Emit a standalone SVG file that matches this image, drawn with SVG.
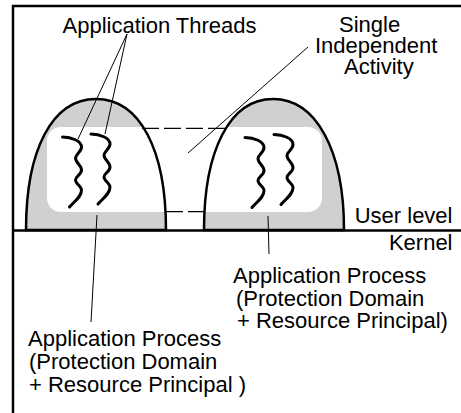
<svg xmlns="http://www.w3.org/2000/svg" width="461" height="413" viewBox="0 0 461 413">
<style>
  .lbl { font-family: "Liberation Sans", Arial, sans-serif; font-size: 22px; fill: #000; }
  .frame { stroke: #000; stroke-width: 2.5; fill: none; }
  .dome-fill { fill: #d0d0d0; stroke: none; }
  .dome-line { fill: none; stroke: #000; stroke-width: 2.5; }
  .thread { fill: none; stroke: #000; stroke-width: 3; stroke-linecap: round; stroke-linejoin: round; }
  .leader { stroke: #000; stroke-width: 1; fill: none; }
  .dash { stroke: #000; stroke-width: 1.2; fill: none; stroke-dasharray: 17 5; }
</style>
<defs>
  <path id="domeL" d="M26,230 C26,150 52,99 96,99 C140,99 166,150 166,230 Z"/>
  <path id="domeR" d="M204,230 C204,150 230,99 273,99 C316,99 344,150 344,230 Z"/>
  <clipPath id="domes">
    <use href="#domeL"/>
    <use href="#domeR"/>
  </clipPath>
  <path id="thr" d="M0,0 C9,0 19,4 19,10 C19,15 13,17 13,21 C13,26 19,28 19,33 C19,38 13,39 13,43 C13,47 19,49 19,53 C19,60 12,64 7,70"/>
</defs>

<g id="frame">
  <path class="frame" d="M13,413 L13,6 L461,6"/>
  <line class="frame" x1="13" y1="230.5" x2="461" y2="230.5"/>
</g>

<g id="process-left">
  <use href="#domeL" class="dome-fill"/>
</g>
<g id="process-right">
  <use href="#domeR" class="dome-fill"/>
</g>

<g id="activity">
  <rect x="47" y="127" width="275" height="85" rx="14" ry="14" fill="#fff" clip-path="url(#domes)"/>
</g>

<g id="dome-outlines">
  <use href="#domeL" class="dome-line"/>
  <use href="#domeR" class="dome-line"/>
</g>

<g id="threads">
  <use href="#thr" class="thread" transform="translate(62.5,137)"/>
  <use href="#thr" class="thread" transform="translate(91,134)"/>
  <use href="#thr" class="thread" transform="translate(245,137.5)"/>
  <use href="#thr" class="thread" transform="translate(274,134.5)"/>
</g>

<g id="connectors">
  <line class="dash" x1="142" y1="128.3" x2="228" y2="128.3"/>
  <line class="dash" x1="166" y1="211.7" x2="204" y2="211.7"/>
  <line class="leader" x1="127" y1="34" x2="78" y2="139"/>
  <line class="leader" x1="127" y1="34" x2="105" y2="134"/>
  <line class="leader" x1="308" y1="47" x2="188" y2="153"/>
  <line class="leader" x1="97" y1="215" x2="91" y2="322"/>
  <line class="leader" x1="268" y1="216" x2="269" y2="254"/>
</g>

<g id="labels">
  <text class="lbl" x="62.5" y="32.5">Application Threads</text>
  <text class="lbl" x="339" y="31.5">Single</text>
  <text class="lbl" x="315" y="53">Independent</text>
  <text class="lbl" x="344" y="74">Activity</text>
  <text class="lbl" x="452.5" y="222.5" text-anchor="end">User level</text>
  <text class="lbl" x="452.5" y="250" text-anchor="end">Kernel</text>
  <text class="lbl" x="233" y="283">Application Process</text>
  <text class="lbl" x="236" y="305.5">(Protection Domain</text>
  <text class="lbl" x="237" y="328">+ Resource Principal)</text>
  <text class="lbl" x="28" y="346">Application Process</text>
  <text class="lbl" x="29" y="369">(Protection Domain</text>
  <text class="lbl" x="29" y="391.5">+ Resource Principal )</text>
</g>
</svg>
